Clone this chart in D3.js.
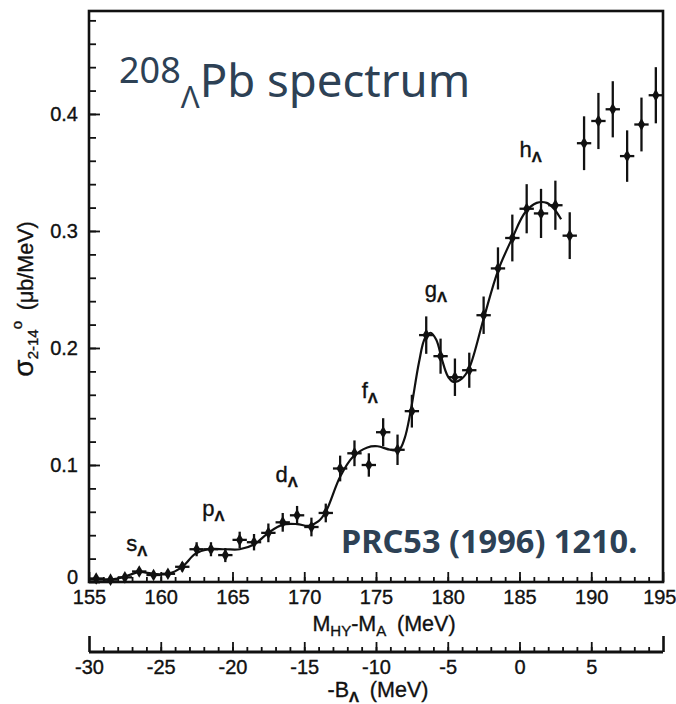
<!DOCTYPE html>
<html>
<head>
<meta charset="utf-8">
<script src="https://cdn.jsdelivr.net/npm/d3@7"></script>
<style>
  html, body { margin: 0; padding: 0; background: #fff; }
  svg { display: block; }
</style>
</head>
<body>
<svg id="chart" width="676" height="704"></svg>
<script>
// Missing-mass bin centres (MeV) of the 208ΛPb (π+,K+) spectrum
const massBins = [155.5, 156.5, 157.5, 158.5, 159.5, 160.5, 161.5, 162.5, 163.5, 164.5,
                  165.5, 166.5, 167.5, 168.5, 169.5, 170.5, 171.5, 172.5, 173.5, 174.5,
                  175.5, 176.5, 177.5, 178.5, 179.5, 180.5, 181.5, 182.5, 183.5, 184.5,
                  185.5, 186.5, 187.5, 188.5, 189.5, 190.5, 191.5, 192.5, 193.5, 194.5];
// Cross section σ(2–14°) in μb/MeV
const crossSection = [0.003, 0.002, 0.004, 0.009, 0.006, 0.007, 0.013, 0.028, 0.028, 0.023,
                      0.036, 0.034, 0.042, 0.051, 0.057, 0.047, 0.059, 0.097, 0.110, 0.100,
                      0.128, 0.113, 0.146, 0.211, 0.193, 0.175, 0.181, 0.228, 0.268, 0.294,
                      0.319, 0.315, 0.322, 0.296, 0.375, 0.394, 0.404, 0.364, 0.391, 0.416];
// Statistical uncertainty of each bin
const crossSectionErr = [0.002, 0.002, 0.002, 0.003, 0.003, 0.003, 0.004, 0.006, 0.006, 0.006,
                         0.007, 0.007, 0.008, 0.008, 0.008, 0.008, 0.008, 0.011, 0.011, 0.010,
                         0.012, 0.013, 0.014, 0.016, 0.015, 0.016, 0.015, 0.016, 0.018, 0.020,
                         0.021, 0.021, 0.021, 0.020, 0.023, 0.024, 0.024, 0.022, 0.023, 0.024];
const binHalfWidth = 0.5;

// Fitted peak sum (smooth curve)
const fitMass  = [155.0, 156.0, 157.0, 157.8, 158.5, 159.5, 160.5, 161.5, 162.4, 163.3,
                  164.5, 165.5, 166.5, 167.5, 168.5, 169.5, 170.3, 171.0, 171.5, 172.5,
                  173.4, 174.4, 175.1, 176.0, 176.6, 177.0, 177.4, 178.0, 178.4, 178.8,
                  179.2, 179.6, 180.0, 180.4, 181.0, 181.5, 182.5, 183.5, 184.5, 185.4,
                  186.2, 186.9, 187.4, 187.9];
const fitSigma = [0.002, 0.002, 0.003, 0.006, 0.0085, 0.007, 0.007, 0.013, 0.024, 0.028,
                  0.028, 0.028, 0.032, 0.042, 0.049, 0.0495, 0.048, 0.052, 0.060, 0.090,
                  0.107, 0.115, 0.116, 0.113, 0.113, 0.123, 0.145, 0.188, 0.208, 0.213,
                  0.207, 0.190, 0.176, 0.171, 0.174, 0.183, 0.225, 0.266, 0.294, 0.316,
                  0.324, 0.324, 0.319, 0.310];

// Axis ticks
const massTicks = [155, 160, 165, 170, 175, 180, 185, 190, 195];
const massTickLabels = ["155", "160", "165", "170", "175", "180", "185", "190", "195"];
const bindingTicks = [-30, -25, -20, -15, -10, -5, 0, 5];
const bindingTickLabels = ["-30", "-25", "-20", "-15", "-10", "-5", "0", "5"];
const sigmaTicks = [0, 0.1, 0.2, 0.3, 0.4];
const sigmaTickLabels = ["0", "0.1", "0.2", "0.3", "0.4"];

// Single-particle shell annotations (label anchored in data units)
const shellNames = ["s", "p", "d", "f", "g", "h"];
const shellMass  = [157.6, 162.9, 168.0, 174.0, 178.4, 185.0];
const shellSigma = [0.0265, 0.0564, 0.0855, 0.157, 0.2436, 0.3632];

(function draw() {
  const svg = d3.select("#chart");
  svg.append("rect").attr("width", 676).attr("height", 704).attr("fill", "#fff");

  const plotL = 89, plotR = 663, plotT = 11, plotB = 582;
  const x = d3.scaleLinear().domain([155, 195]).range([plotL, plotR]);
  const y = d3.scaleLinear().domain([0, 0.488]).range([plotB, plotT]);
  const xB = d3.scaleLinear().domain([-30, 10]).range([plotL, plotR]);

  const ink = "#111";
  const sans = "'Liberation Sans', Arial, Helvetica, sans-serif";
  const noteColor = "#2d4155";

  // minor / major ticks along the mass axis (pointing into the frame)
  const gxMinor = svg.append("g").attr("transform", `translate(0,${plotB})`)
    .call(d3.axisBottom(x).tickValues(d3.range(156, 195)).tickSize(-5).tickFormat(""));
  const gxMajor = svg.append("g").attr("transform", `translate(0,${plotB})`)
    .call(d3.axisBottom(x).tickValues(massTicks).tickSize(-10).tickPadding(8)
          .tickFormat((d, i) => massTickLabels[i]));

  const gyMinor = svg.append("g").attr("transform", `translate(${plotL},0)`)
    .call(d3.axisLeft(y).tickValues(d3.range(0.02, 0.481, 0.02)).tickSize(-7).tickFormat(""));
  const gyMajor = svg.append("g").attr("transform", `translate(${plotL},0)`)
    .call(d3.axisLeft(y).tickValues(sigmaTicks).tickSize(-11).tickPadding(11)
          .tickFormat((d, i) => sigmaTickLabels[i]));

  // binding energy axis below
  const bAxisY = 652;
  const gbMinor = svg.append("g").attr("transform", `translate(0,${bAxisY})`)
    .call(d3.axisBottom(xB).tickValues(d3.range(-29, 10)).tickSize(-5).tickFormat(""));
  const gbMajor = svg.append("g").attr("transform", `translate(0,${bAxisY})`)
    .call(d3.axisBottom(xB).tickValues(bindingTicks.slice(1)).tickSize(-10).tickPadding(8)
          .tickFormat((d, i) => bindingTickLabels[i + 1]));
  const gbEnds = svg.append("g").attr("transform", `translate(0,${bAxisY})`)
    .call(d3.axisBottom(xB).tickValues([-30, 10]).tickSize(-16).tickPadding(8)
          .tickFormat(d => d === -30 ? bindingTickLabels[0] : ""));

  [gxMinor, gxMajor, gyMinor, gyMajor, gbMinor, gbMajor, gbEnds].forEach(g => {
    g.select(".domain").remove();
    g.selectAll(".tick line").attr("stroke", ink).attr("stroke-width", 1.8);
    g.selectAll(".tick text").attr("fill", ink).attr("font-family", sans)
      .attr("font-size", 20).attr("stroke", ink).attr("stroke-width", 0.35);
  });
  gbEnds.selectAll(".tick line").attr("stroke-width", 2.6);

  // the zero label sits a little above the baseline tick; the last mass label hugs the edge
  gyMajor.selectAll(".tick").filter(d => d === 0).select("text").attr("dy", "0.05em");
  gxMajor.selectAll(".tick").filter(d => d === 195).select("text")
    .attr("text-anchor", "end").attr("x", 13);

  svg.append("line").attr("x1", xB(-30)).attr("x2", xB(10))
    .attr("y1", bAxisY).attr("y2", bAxisY)
    .attr("stroke", ink).attr("stroke-width", 2.8);

  // frame
  svg.append("rect").attr("x", plotL).attr("y", plotT)
    .attr("width", plotR - plotL).attr("height", plotB - plotT)
    .attr("fill", "none").attr("stroke", ink).attr("stroke-width", 2.6);

  // fit curve
  const line = d3.line().x(d => x(d[0])).y(d => y(d[1])).curve(d3.curveCatmullRom.alpha(0.5));
  svg.append("path").datum(fitMass.map((m, i) => [m, fitSigma[i]]))
    .attr("d", line).attr("fill", "none").attr("stroke", ink).attr("stroke-width", 2.2);

  // data with error bars
  const pts = svg.append("g").selectAll("g").data(massBins).join("g");
  pts.append("line")
    .attr("x1", d => x(d)).attr("x2", d => x(d))
    .attr("y1", (d, i) => y(crossSection[i] - crossSectionErr[i]))
    .attr("y2", (d, i) => y(crossSection[i] + crossSectionErr[i]))
    .attr("stroke", ink).attr("stroke-width", 2.3);
  pts.append("line")
    .attr("x1", d => x(d - binHalfWidth)).attr("x2", d => x(d + binHalfWidth))
    .attr("y1", (d, i) => y(crossSection[i])).attr("y2", (d, i) => y(crossSection[i]))
    .attr("stroke", ink).attr("stroke-width", 2.3);
  pts.append("path")
    .attr("d", d3.symbol(d3.symbolDiamond, 46))
    .attr("transform", (d, i) => `translate(${x(d)},${y(crossSection[i])})`)
    .attr("fill", ink);

  // shell labels
  shellNames.forEach((s, i) => {
    const t = svg.append("text").attr("x", x(shellMass[i])).attr("y", y(shellSigma[i]))
      .attr("font-family", sans).attr("font-size", 22).attr("fill", ink)
      .attr("stroke", ink).attr("stroke-width", 0.35);
    t.append("tspan").text(s);
    t.append("tspan").attr("dy", 5).attr("font-size", 15).attr("font-weight", "bold").text("Λ");
  });

  // axis titles
  const xt = svg.append("text").attr("x", 384).attr("y", 631).attr("text-anchor", "middle")
    .attr("font-family", sans).attr("font-size", 21.5).attr("fill", ink)
    .attr("stroke", ink).attr("stroke-width", 0.35);
  xt.append("tspan").text("M");
  xt.append("tspan").attr("dy", 5).attr("font-size", 15).text("HY");
  xt.append("tspan").attr("dy", -5).text("-M");
  xt.append("tspan").attr("dy", 5).attr("font-size", 15).text("A");
  xt.append("tspan").attr("dy", -5).text("\u2002(MeV)");

  const bt = svg.append("text").attr("x", 378).attr("y", 697).attr("text-anchor", "middle")
    .attr("font-family", sans).attr("font-size", 21.5).attr("fill", ink)
    .attr("stroke", ink).attr("stroke-width", 0.35);
  bt.append("tspan").text("-B");
  bt.append("tspan").attr("dy", 5).attr("font-size", 15).attr("font-weight", "bold").text("Λ");
  bt.append("tspan").attr("dy", -5).text("\u2002(MeV)");

  const yt = svg.append("text").attr("transform", "translate(33,299) rotate(-90)")
    .attr("text-anchor", "middle").attr("font-family", sans).attr("font-size", 21.5)
    .attr("fill", ink).attr("stroke", ink).attr("stroke-width", 0.35);
  yt.append("tspan").attr("font-size", 28).text("σ");
  yt.append("tspan").attr("dy", 5).attr("font-size", 15).text("2-14");
  yt.append("tspan").attr("dy", -16).attr("font-size", 15).text("o");
  yt.append("tspan").attr("dy", 11).text("\u2002(μb/MeV)");

  // title and reference
  const title = svg.append("text").attr("x", 119).attr("y", 97)
    .attr("font-family", "'Noto Sans', 'Open Sans', sans-serif").attr("fill", noteColor);
  title.append("tspan").attr("dy", -14).attr("font-size", 36).text("208");
  title.append("tspan").attr("dy", 25).attr("font-size", 31).text("Λ");
  title.append("tspan").attr("dy", -11).attr("font-size", 45.5).text("Pb spectrum");

  svg.append("text").attr("x", 341).attr("y", 553)
    .attr("font-family", "'Noto Sans', 'Open Sans', sans-serif").attr("font-weight", "bold")
    .attr("font-size", 32.5).attr("fill", noteColor).text("PRC53 (1996) 1210.");
})();
</script>
</body>
</html>
